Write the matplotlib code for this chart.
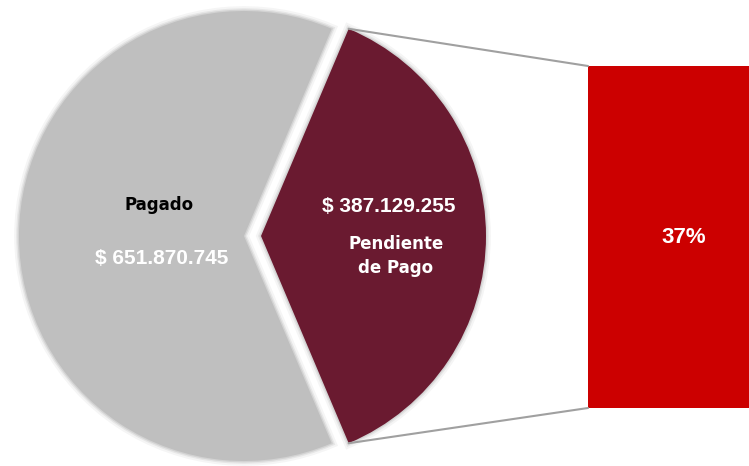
import numpy as np
import matplotlib.pyplot as plt
from matplotlib.patches import ConnectionPatch, Wedge

# datos
etiquetas = ['Pagado', 'Pendiente\nde Pago']
montos = [651870745, 387129255]
montos_txt = ['$ 651.870.745', '$ 387.129.255']
colores = ['#BFBFBF', '#6A1A30']
color_barra = '#CC0000'

total = sum(montos)
pct = montos[1] / total * 100

W, H = 749, 466
fig = plt.figure(figsize=(W / 100, H / 100), dpi=100)

# eje principal en coordenadas de pixel
ax = fig.add_axes([0, 0, 1, 1])

ang_pend = montos[1] / total * 360
inicio = 360 - ang_pend / 2 - montos[0] / total * 360
wedges, _ = ax.pie(montos, colors=colores, center=(244, 230), radius=225,
                   startangle=inicio, explode=[0, 17], frame=True,
                   wedgeprops=dict(linewidth=0, zorder=2))

# sombra suave alrededor de cada porcion
for w in wedges:
    for lw, a in [(7, 0.04), (4, 0.06), (2, 0.08)]:
        sh = Wedge(w.center, w.r, w.theta1, w.theta2, facecolor='none',
                   edgecolor='black', alpha=a, linewidth=lw, zorder=1)
        ax.add_patch(sh)

ax.set_xlim(0, W)
ax.set_ylim(0, H)
ax.set_aspect('equal')
ax.axis('off')

# textos de la torta
ax.text(159, H - 205, etiquetas[0], ha='center', va='center', fontsize=12,
        fontweight='bold', color='black', family='DejaVu Sans', zorder=3)
ax.text(162, H - 259, montos_txt[0], ha='center', va='center', fontsize=15,
        fontweight='bold', color='white', family='Liberation Sans', zorder=3)
ax.text(389, H - 207, montos_txt[1], ha='center', va='center', fontsize=15,
        fontweight='bold', color='white', family='Liberation Sans', zorder=3)
ax.text(396, H - 256, etiquetas[1], ha='center', va='center', fontsize=12,
        fontweight='bold', color='white', family='DejaVu Sans',
        linespacing=1.45, zorder=3)

# barra del porcentaje
ax2 = fig.add_axes([588 / W, 58 / H, 200 / W, 342 / H])
ax2.bar([0], [pct], width=1, color=color_barra, align='edge')
ax2.set_xlim(0, 1)
ax2.set_ylim(0, pct)
ax2.axis('off')
ax2.text(0.48, 0.5, f'{pct:.0f}%', transform=ax2.transAxes, ha='center',
         va='center', fontsize=16, fontweight='bold', color='white',
         family='Liberation Sans')

# lineas de conexion
w = wedges[1]
cx, cy = w.center
r = w.r
for th, yb in [(w.theta2, 1), (w.theta1, 0)]:
    xa = cx + r * np.cos(np.radians(th))
    ya = cy + r * np.sin(np.radians(th))
    con = ConnectionPatch(xyA=(xa, ya), coordsA='data', axesA=ax,
                          xyB=(0, yb), coordsB='axes fraction', axesB=ax2,
                          color='#A0A0A0', linewidth=1.5)
    fig.add_artist(con)

fig.savefig('out.png', dpi=100)
